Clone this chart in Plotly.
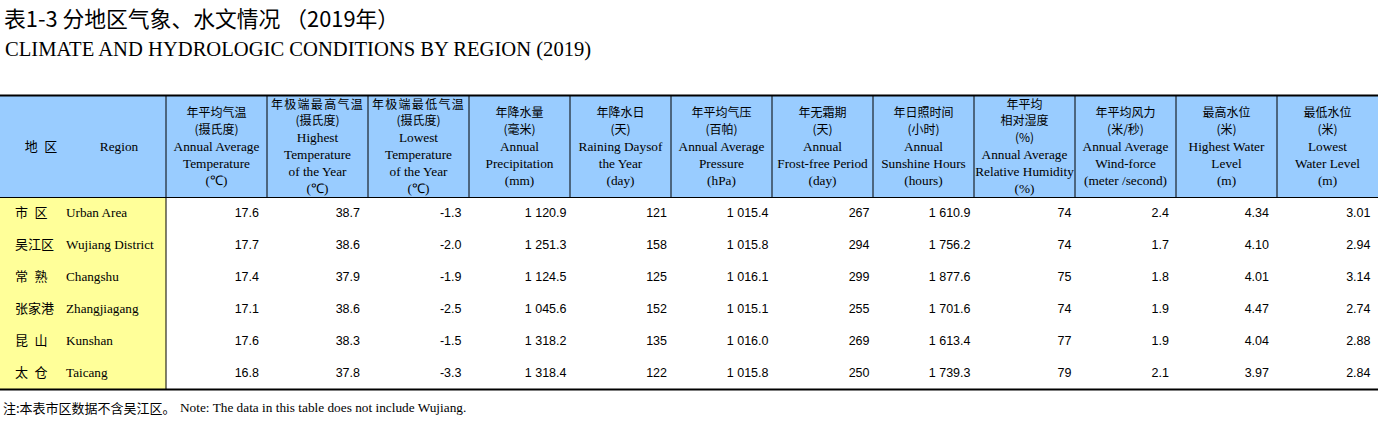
import plotly.graph_objects as go

# ---------------- data ----------------
regions_zh = ["市 区", "吴江区", "常 熟", "张家港", "昆 山", "太 仓"]
regions_en = ["Urban Area", "Wujiang District", "Changshu", "Zhangjiagang", "Kunshan", "Taicang"]

avg_temp = [17.6, 17.7, 17.4, 17.1, 17.6, 16.8]
max_temp = [38.7, 38.6, 37.9, 38.6, 38.3, 37.8]
min_temp = [-1.3, -2.0, -1.9, -2.5, -1.5, -3.3]
precipitation = [1120.9, 1251.3, 1124.5, 1045.6, 1318.2, 1318.4]
rain_days = [121, 158, 125, 152, 135, 122]
pressure = [1015.4, 1015.8, 1016.1, 1015.1, 1016.0, 1015.8]
frost_free = [267, 294, 299, 255, 269, 250]
sunshine = [1610.9, 1756.2, 1877.6, 1701.6, 1613.4, 1739.3]
humidity = [74, 74, 75, 74, 77, 79]
wind = [2.4, 1.7, 1.8, 1.9, 1.9, 2.1]
high_water = [4.34, 4.10, 4.01, 4.47, 4.04, 3.97]
low_water = [3.01, 2.94, 3.14, 2.74, 2.88, 2.84]

series = [avg_temp, max_temp, min_temp, precipitation, rain_days, pressure,
          frost_free, sunshine, humidity, wind, high_water, low_water]
decimals = [1, 1, 1, 1, 0, 1, 0, 1, 0, 1, 2, 2]

header_zh = [
    ["年平均气温", "(摄氏度)"],
    ["年极端最高气温", "(摄氏度)"],
    ["年极端最低气温", "(摄氏度)"],
    ["年降水量", "(毫米)"],
    ["年降水日", "(天)"],
    ["年平均气压", "(百帕)"],
    ["年无霜期", "(天)"],
    ["年日照时间", "(小时)"],
    ["年平均", "相对湿度", "(%)"],
    ["年平均风力", "(米/秒)"],
    ["最高水位", "(米)"],
    ["最低水位", "(米)"],
]
header_en = [
    ["Annual Average", "Temperature", "(℃)"],
    ["Highest", "Temperature", "of the Year", "(℃)"],
    ["Lowest", "Temperature", "of the Year", "(℃)"],
    ["Annual", "Precipitation", "(mm)"],
    ["Raining Daysof", "the Year", "(day)"],
    ["Annual Average", "Pressure", "(hPa)"],
    ["Annual", "Frost-free Period", "(day)"],
    ["Annual", "Sunshine Hours", "(hours)"],
    ["Annual Average", "Relative Humidity", "(%)"],
    ["Annual Average", "Wind-force", "(meter /second)"],
    ["Highest Water", "Level", "(m)"],
    ["Lowest", "Water Level", "(m)"],
]
region_header_zh = "地 区"
region_header_en = "Region"

title_zh = "表1-3 分地区气象、水文情况 （2019年）"
title_en = "CLIMATE AND HYDROLOGIC CONDITIONS BY REGION (2019)"
note_zh = "注:本表市区数据不含吴江区。"
note_en = "Note: The data in this table does not include Wujiang."

# ---------------- layout / style ----------------
W, H = 1378, 423
col_widths = [60, 106] + [101] * 12
edges = [0]
for w in col_widths:
    edges.append(edges[-1] + w)
right_pad = [8, 8, 7.5, 3.5, 4, 3.5, 3.5, 3.5, 3.5, 7, 8, 7.5]
# extra letter spacing of the first Chinese header line (cols 2-3 are spread wider)
zh_spacing = [0, 1.3, 1.3, 0, 0, 0, 0, 0, 0, 0, 0, 0]

TOP, HEAD_BOTTOM, ROW_H = 95.5, 197.5, 32
BOTTOM = HEAD_BOTTOM + ROW_H * len(regions_zh)
HEAD_BLUE = "#99CCFF"
REGION_YELLOW = "#FFFF99"
CJK = "Noto Sans CJK SC"
SERIF = "Liberation Serif"
SANS = "Liberation Sans"
EN_SPACE = "\u2002"


def zh_span(s, size=12, spacing=0):
    extra = f";letter-spacing:{spacing}px" if spacing else ""
    return f'<span style="font-family:{CJK};font-size:{size}px{extra}">{s}</span>'


def en_span(s, size=13.3):
    return f'<span style="font-size:{size}px">{s}</span>'


def cjk_gap(s):
    return s.replace(" ", EN_SPACE)


def fmt(v, d):
    return f"{v:,.{d}f}".replace(",", " ")


fig = go.Figure()

# header texts
head_y = (TOP + HEAD_BOTTOM) / 2 + 1
centers = [(edges[i + 2] + edges[i + 3]) / 2 for i in range(len(series))]
head_text = []
for zh, en, sp in zip(header_zh, header_en, zh_spacing):
    lines = [zh_span(z, spacing=(sp if j == 0 else 0)) for j, z in enumerate(zh)]
    lines += [en_span(e) for e in en]
    head_text.append("<br>".join(lines))
fig.add_trace(go.Scatter(
    x=centers, y=[head_y] * len(centers), text=head_text, mode="text",
    textposition="middle center", hoverinfo="skip", showlegend=False,
    textfont=dict(family=SERIF, size=13, color="black")))

# region header
fig.add_trace(go.Scatter(
    x=[41], y=[head_y], text=[cjk_gap(region_header_zh)], mode="text",
    textposition="middle center", hoverinfo="skip", showlegend=False,
    textfont=dict(family=CJK, size=13, color="black")))
fig.add_trace(go.Scatter(
    x=[119], y=[head_y], text=[region_header_en], mode="text",
    textposition="middle center", hoverinfo="skip", showlegend=False,
    textfont=dict(family=SERIF, size=13.3, color="black")))

row_y = [HEAD_BOTTOM + ROW_H * (k + 0.5) + 0.5 for k in range(len(regions_zh))]

# region column
fig.add_trace(go.Scatter(
    x=[15] * len(regions_zh), y=row_y, text=[cjk_gap(r) for r in regions_zh], mode="text",
    textposition="middle right", hoverinfo="skip", showlegend=False,
    textfont=dict(family=CJK, size=13, color="black")))
fig.add_trace(go.Scatter(
    x=[66] * len(regions_en), y=row_y, text=regions_en, mode="text",
    textposition="middle right", hoverinfo="skip", showlegend=False,
    textfont=dict(family=SERIF, size=13.2, color="black")))

# data columns
for i, (vals, d) in enumerate(zip(series, decimals)):
    xr = edges[i + 3] - right_pad[i]
    fig.add_trace(go.Scatter(
        x=[xr] * len(vals), y=row_y, text=[fmt(v, d) for v in vals], mode="text",
        textposition="middle left", hoverinfo="skip", showlegend=False,
        textfont=dict(family=SANS, size=12.5, color="black")))

shapes = []
# fills
shapes.append(dict(type="rect", xref="x", yref="y", x0=0, x1=W, y0=TOP, y1=HEAD_BOTTOM,
                   fillcolor=HEAD_BLUE, line=dict(width=0), layer="below"))
shapes.append(dict(type="rect", xref="x", yref="y", x0=0, x1=edges[2], y0=HEAD_BOTTOM, y1=BOTTOM,
                   fillcolor=REGION_YELLOW, line=dict(width=0), layer="below"))
# header vertical lines
for xe in edges[2:-1]:
    shapes.append(dict(type="line", xref="x", yref="y", x0=xe, x1=xe, y0=TOP, y1=HEAD_BOTTOM,
                       line=dict(color="black", width=1)))
# region separator
shapes.append(dict(type="line", xref="x", yref="y", x0=edges[2], x1=edges[2], y0=HEAD_BOTTOM, y1=BOTTOM,
                   line=dict(color="black", width=1)))
# horizontal rules
shapes.append(dict(type="line", xref="x", yref="y", x0=0, x1=W, y0=TOP, y1=TOP,
                   line=dict(color="black", width=2)))
shapes.append(dict(type="line", xref="x", yref="y", x0=0, x1=W, y0=HEAD_BOTTOM, y1=HEAD_BOTTOM,
                   line=dict(color="black", width=1.2)))
shapes.append(dict(type="line", xref="x", yref="y", x0=0, x1=W, y0=BOTTOM, y1=BOTTOM,
                   line=dict(color="black", width=2)))

annotations = [
    dict(x=2, y=17.5, xref="x", yref="y", text=title_zh, showarrow=False,
         xanchor="left", yanchor="middle", font=dict(family=CJK, size=21.8, color="black")),
    dict(x=3, y=49, xref="x", yref="y", text=title_en, showarrow=False,
         xanchor="left", yanchor="middle", font=dict(family=SERIF, size=20.6, color="black")),
    dict(x=1, y=407, xref="x", yref="y", text=note_zh, showarrow=False,
         xanchor="left", yanchor="middle", font=dict(family=CJK, size=13, color="black")),
    dict(x=178, y=407, xref="x", yref="y", text=note_en, showarrow=False,
         xanchor="left", yanchor="middle", font=dict(family=SERIF, size=13.3, color="black")),
]

fig.update_layout(
    width=W, height=H, margin=dict(l=0, r=0, t=0, b=0),
    paper_bgcolor="white", plot_bgcolor="white",
    xaxis=dict(range=[0, W], visible=False, fixedrange=True),
    yaxis=dict(range=[H, 0], visible=False, fixedrange=True),
    shapes=shapes, annotations=annotations, showlegend=False,
)

fig.write_html(
    "out.html",
    config={"displayModeBar": False},
    post_script="document.body.style.margin='0';document.body.style.overflow='hidden';",
)
